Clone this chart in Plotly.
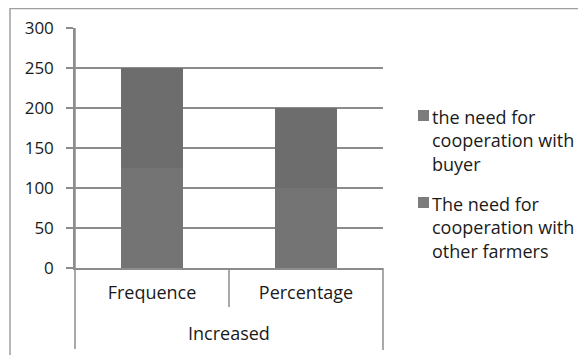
import plotly.graph_objects as go

categories = ["Frequence", "Percentage"]
group_label = "Increased"
series_names = ["The need for<br>cooperation with<br>other farmers",
                "the need for<br>cooperation with<br>buyer"]
other_farmers = [125, 100]
buyer = [125, 100]
colors = ["#747474", "#6d6d6d"]

# page has an 8px body margin, so the figure starts at (8, 8)
OFF = 8
W, H = 586 - OFF, 355 - OFF
# plot area in page pixels: x 75..383, y 28..268
L, R, T, B = 75, 383, 28, 268
pw, ph = R - L, B - T


def px_x(x):
    return (x - L) / pw


def px_y(y):
    return (B - y) / ph


fig = go.Figure()
for vals, name, col in zip([other_farmers, buyer], series_names, colors):
    fig.add_trace(go.Bar(
        x=categories, y=vals, name=name,
        marker=dict(color=col, line=dict(width=0)),
        width=0.4, showlegend=False,
    ))

grid = "#8c8c8c"
shapes = [
    # outer frame (only top and left visible)
    dict(type="rect", xref="paper", yref="paper",
         x0=px_x(10), x1=px_x(640), y0=px_y(420), y1=px_y(8.5),
         line=dict(color="#a0a0a0", width=1.5), layer="below"),
    # left axis extension down to the group label
    dict(type="line", xref="paper", yref="paper",
         x0=0, x1=0, y0=px_y(349), y1=1,
         line=dict(color=grid, width=1.5)),
    # right end divider
    dict(type="line", xref="paper", yref="paper",
         x0=1, x1=1, y0=px_y(350), y1=0,
         line=dict(color=grid, width=1.5)),
    # divider between categories
    dict(type="line", xref="x", yref="paper",
         x0=0.5, x1=0.5, y0=px_y(307), y1=0,
         line=dict(color=grid, width=1.5)),
]

annotations = [
    dict(text=group_label, xref="paper", yref="paper",
         x=0.5, y=px_y(333), xanchor="center", yanchor="middle",
         showarrow=False, font=dict(size=18)),
]

# legend drawn by hand: small square + wrapped label
legend_mid = [140, 227]
for name, col, ym in zip(reversed(series_names), reversed(colors), legend_mid):
    shapes.append(dict(type="rect", xref="paper", yref="paper",
                       x0=px_x(418), x1=px_x(429),
                       y0=px_y(ym - 19), y1=px_y(ym - 30),
                       fillcolor="#7c7c7c", line=dict(width=0)))
    annotations.append(dict(text=name, xref="paper", yref="paper",
                            x=px_x(430), y=px_y(ym), xanchor="left",
                            yanchor="middle", align="left", showarrow=False,
                            font=dict(size=18)))

fig.update_layout(
    width=W, height=H,
    margin=dict(l=L - OFF, r=586 - R, t=T - OFF, b=355 - B, autoexpand=False),
    paper_bgcolor="white", plot_bgcolor="white",
    barmode="stack",
    font=dict(family="Open Sans, Lato, sans-serif", size=16, color="#1a1a1a"),
    showlegend=False,
    xaxis=dict(
        range=[-0.5, 1.5], showgrid=False, showline=True,
        linecolor=grid, linewidth=1.5, ticks="", ticklen=0,
        tickfont=dict(size=18), zeroline=False, ticklabelstandoff=8,
    ),
    yaxis=dict(
        range=[0, 300], tickvals=[0, 50, 100, 150, 200, 250, 300],
        showgrid=True, gridcolor=grid, gridwidth=1.5,
        showline=True, linecolor=grid, linewidth=1.5,
        ticks="outside", ticklen=7, tickcolor=grid, tickwidth=1.5,
        tickfont=dict(size=17), zeroline=False, ticklabelstandoff=9,
    ),
    shapes=shapes,
    annotations=annotations,
)

fig.write_html("out.html")
